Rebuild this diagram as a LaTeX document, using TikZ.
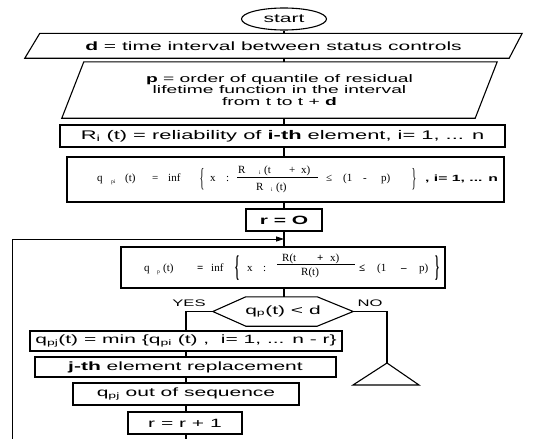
\documentclass[tikz,border=0pt]{standalone}
\usepackage{graphicx}
\usepackage{fontspec}
\setmainfont{Liberation Sans}[FakeStretch=1.75]
\newfontfamily\fserif{Liberation Serif}
\usetikzlibrary{arrows.meta,calc,shapes.geometric}
\begin{document}
\begin{tikzpicture}[x=1pt,y=-1pt,
  ln/.style={line width=1.1pt},
  boxn/.style={draw, line width=1.1pt, rectangle, inner sep=0pt, font=\fontsize{12}{14}\selectfont},
  ghost/.style={rectangle, inner sep=0pt, font=\fontsize{12}{14}\selectfont},
  fx/.style={anchor=base west, inner sep=0pt, font=\fserif\fontsize{11}{13}\selectfont},
  fxb/.style={anchor=base west, inner sep=0pt, font=\fserif\bfseries\fontsize{11}{13}\selectfont},
  fs/.style={anchor=base west, inner sep=0pt, font=\fserif\fontsize{5.5}{6.5}\selectfont},
  fbr/.style={anchor=center, inner sep=0pt, font=\fserif\fontsize{10}{12}\selectfont},
  lab/.style={inner sep=0pt, font=\fontsize{9.5}{11}\selectfont}]

\fill[white] (0,0) rectangle (557,439);
\useasboundingbox (0,0) rectangle (557,439);

% --- nodes
\node[draw, ellipse, line width=1.1pt, minimum width=85pt, minimum height=22pt, inner sep=0pt,
      font=\fontsize{12}{14}\selectfont] (start) at (284,19) {start};

\node[ghost, minimum width=484pt, minimum height=24.5pt] (in1) at (273.5,45.75)
  {\textbf{d} = time interval between status controls};
\draw[ln] ($(in1.south west)+(-6.5,0)$) -- ($(in1.north west)+(8.5,0)$) -- ($(in1.north east)+(6.5,0)$) -- ($(in1.south east)+(-6.5,0)$) -- cycle;

\node[ghost, minimum width=413pt, minimum height=56pt, align=center, font=\fontsize{11}{11.5}\selectfont] (in2) at (279.5,90)
  {\textbf{p} = order of quantile of residual\\lifetime function in the interval\\from t to t + \textbf{d}};
\draw[ln] ($(in2.south west)+(-11,0)$) -- ($(in2.north west)+(11,0)$) -- ($(in2.north east)+(11,0)$) -- ($(in2.south east)+(-11,0)$) -- cycle;

\node[boxn, minimum width=445pt, minimum height=22pt, font=\fontsize{12.5}{14}\selectfont] (rRi) at (282.5,136)
  {R\textsubscript{i} (t) = reliability of \textbf{i-th} element, i= 1, ... n};

\node[boxn, minimum width=437pt, minimum height=45pt] (rQi) at (285.5,179.5) {};
\node[boxn, minimum width=76pt, minimum height=22pt, font=\bfseries\fontsize{12}{14}\selectfont] (r0) at (284,220) {r = O};
\node[boxn, minimum width=324pt, minimum height=41pt] (rQp) at (283,267.5) {};

\node[ghost, minimum width=140pt, minimum height=29pt] (dec) at (283,311.5) {q\textsubscript{p}(t) < d};
\draw[ln] (dec.west) -- ($(dec.north west)+(33,0)$) -- ($(dec.north east)+(-36,0)$) -- (dec.east)
  -- ($(dec.south east)+(-36,0)$) -- ($(dec.south west)+(33,0)$) -- cycle;
\node[lab, anchor=base] (yes) at (189,306.5) {YES};
\node[lab, anchor=base] (no) at (370,306.5) {NO};

\node[boxn, minimum width=312pt, minimum height=20pt] (bJ) at (186,341)
  {q\textsubscript{pj}(t) = min \{q\textsubscript{pi} (t) ,\ \ i= 1, ... n - r\}};
\node[boxn, minimum width=301pt, minimum height=20pt] (bRep) at (185.5,367) {\textbf{j-th} element replacement};
\node[boxn, minimum width=226pt, minimum height=22pt] (bOut) at (186,394) {q\textsubscript{pj} out of sequence};
\node[boxn, minimum width=114pt, minimum height=22pt] (bInc) at (185,423) {r = r + 1};

% --- formula 1
\node[fx] (f1q) at (97,181.5) {q};
\node[fs] (f1qs) at (111,183.5) {pi};
\node[fx] (f1t) at (125,181.5) {(t)};
\node[fx] (f1eq) at (152,181.5) {=};
\node[fx] (f1inf) at (168,181.5) {inf};
\node[fbr] (f1lb) at (202,179.5) {\scalebox{1}[2.6]{\{}};
\node[fx] (f1x) at (210,181.5) {x};
\node[fx] (f1c) at (226,181.5) {:};
\node[fx] (f1nR) at (238,173) {R};
\node[fs] (f1ni) at (259,174.5) {i};
\node[fx] (f1nt) at (264,173) {(t};
\node[fx] (f1np) at (289,173) {+};
\node[fx] (f1nx) at (301,173) {x)};
\draw[line width=0.5pt] (237,177) -- (318,177);
\node[fx] (f1dR) at (256,190) {R};
\node[fs] (f1di) at (271,191.5) {i};
\node[fx] (f1dt) at (276,190) {(t)};
\node[fx] (f1le) at (326,181.5) {≤};
\node[fx] (f1o) at (343,181.5) {(1};
\node[fx] (f1m) at (363,181.5) {-};
\node[fx] (f1p) at (381,181.5) {p)};
\node[fbr] (f1rb) at (414,179.5) {\scalebox{1}[2.6]{\}}};
\node[anchor=base west, inner sep=0pt, font=\bfseries\fontsize{9}{11}\selectfont] (f1i) at (425,181.5) {, i= 1, ... n};

% --- formula 2
\node[fx] (f2q) at (144,271) {q};
\node[fs] (f2qs) at (157,273) {p};
\node[fx] (f2t) at (163,271) {(t)};
\node[fxb] (f2eq) at (197,271) {=};
\node[fx] (f2inf) at (211,271) {inf};
\node[fbr, font=\fserif\bfseries\fontsize{10}{12}\selectfont] (f2lb) at (237,268) {\scalebox{1}[3]{\{}};
\node[fx] (f2x) at (247,271) {x};
\node[fx] (f2c) at (263,271) {:};
\node[fx] (f2nR) at (282,261) {R(t};
\node[fxb] (f2np) at (317,261) {+};
\node[fx] (f2nx) at (330,261) {x)};
\draw[line width=0.5pt] (277,264.5) -- (355,264.5);
\node[fx] (f2d) at (301,275.5) {R(t)};
\node[fxb] (f2le) at (359,271) {≤};
\node[fx] (f2o) at (377,271) {(1};
\node[fxb] (f2m) at (401,271) {–};
\node[fx] (f2p) at (419,271) {p)};
\node[fbr, font=\fserif\bfseries\fontsize{10}{12}\selectfont] (f2rb) at (437,268) {\scalebox{1}[3]{\}}};

% --- connectors
\draw[ln] (start.south) -- (start.south |- in1.north);
\draw[ln] (start.south |- in1.south) -- (start.south |- in2.north);
\draw[ln] (start.south |- in2.south) -- (start.south |- rRi.north);
\draw[ln] (start.south |- rRi.south) -- (start.south |- rQi.north);
\draw[ln] (start.south |- rQi.south) -- (r0.north);
\draw[ln] (r0.south) -- (r0.south |- rQp.north);
\draw[ln] (r0.south |- rQp.south) -- (r0.south |- dec.north);
\draw[ln] (dec.west) -| (bJ.north);
\draw[ln] (bJ.south) -- (bJ.south |- bRep.north);
\draw[ln] (bJ.south |- bRep.south) -- (bJ.south |- bOut.north);
\draw[ln] (bJ.south |- bOut.south) -- (bJ.south |- bInc.north);
\coordinate (bot) at (186,439);
\draw[ln] (bJ.south |- bInc.south) -- (bot);
\coordinate (lcorner) at (12,439);
\coordinate (ltop) at (12,239);
\draw[line width=0.8pt, -{Triangle[length=8pt,width=5pt]}] (lcorner) -- (ltop) -- (ltop -| r0.south);
\coordinate (apex) at (387,363);
\draw[ln] (dec.east) -| (apex);
\draw[ln] (apex) -- ($(apex)+(-34,22)$) -- ($(apex)+(32,22)$) -- cycle;
\end{tikzpicture}
\end{document}
